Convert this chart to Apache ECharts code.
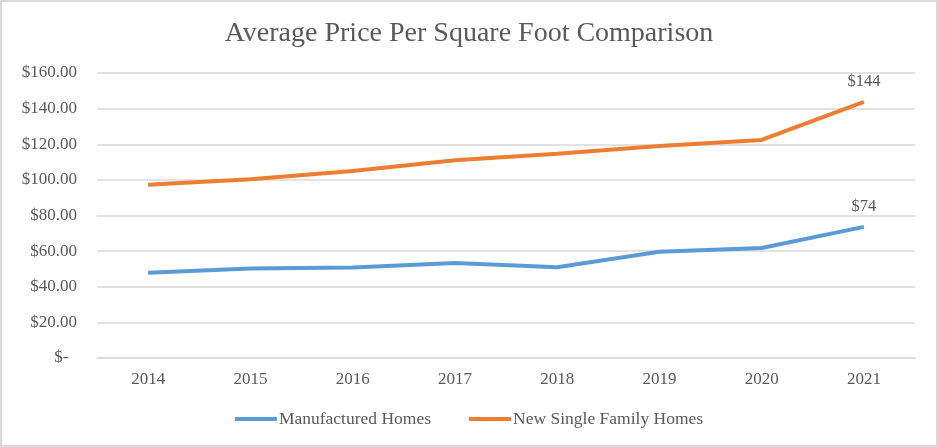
<!DOCTYPE html>
<html>
<head>
<meta charset="utf-8">
<script src="https://cdn.jsdelivr.net/npm/echarts@6/dist/echarts.min.js"></script>
<style>
html,body{margin:0;padding:0;background:#fff;}
#c{width:938px;height:447px;box-sizing:border-box;border:2px solid #d9d9d9;}
</style>
</head>
<body>
<div id="c"></div>
<script>
var categories = ['2014','2015','2016','2017','2018','2019','2020','2021'];
var manufactured = [47.8, 50.2, 50.8, 53.4, 51.0, 59.6, 61.8, 73.6];
var newSingleFamily = [97.2, 100.3, 105.0, 111.0, 114.6, 119.0, 122.4, 143.8];
var seriesNames = ['Manufactured Homes', 'New Single Family Homes'];
var titleText = 'Average Price Per Square Foot Comparison';

var chart = echarts.init(document.getElementById('c'), null, {renderer:'canvas'});
var font = '"Liberation Serif", "Times New Roman", serif';
var txt = '#595959';
function labelFmt(p){ return p.dataIndex === categories.length - 1 ? '$' + Math.round(p.value) : ''; }
function mkSeries(name, data, color){
  return {name:name,type:'line',data:data,showSymbol:true,symbol:'circle',symbolSize:0.1,
    lineStyle:{color:color,width:4},itemStyle:{color:color},
    label:{show:true,position:'top',distance:12,fontFamily:font,fontSize:16.5,color:txt,formatter:labelFmt}};
}
chart.setOption({
  animation:false,
  title:{text:titleText,left:'center',top:13,textStyle:{fontFamily:font,fontWeight:'normal',fontSize:28,color:txt}},
  grid:{left:95,right:21,top:71,bottom:87,containLabel:false},
  legend:{bottom:12,left:'center',itemWidth:42,itemHeight:4,itemGap:38,icon:'rect',
    textStyle:{fontFamily:font,fontSize:17.5,color:txt,padding:[0,0,0,-3]},
    data:seriesNames},
  xAxis:{type:'category',data:categories,boundaryGap:true,
    axisLine:{show:true,lineStyle:{color:'#d9d9d9',width:1.5}},axisTick:{show:false},
    axisLabel:{fontFamily:font,fontSize:17,color:txt,margin:13}},
  yAxis:{type:'value',min:0,max:160,interval:20,
    axisLine:{show:false},axisTick:{show:false},
    splitLine:{lineStyle:{color:'#d9d9d9',width:1.5}},
    axisLabel:{fontFamily:font,fontSize:17,color:txt,margin:20,
      formatter:function(v){return v===0?'$-  ':'$'+v.toFixed(2);}}},
  series:[
    mkSeries(seriesNames[0], manufactured, '#5B9BD5'),
    mkSeries(seriesNames[1], newSingleFamily, '#ED7D31')
  ]
});
</script>
</body>
</html>
